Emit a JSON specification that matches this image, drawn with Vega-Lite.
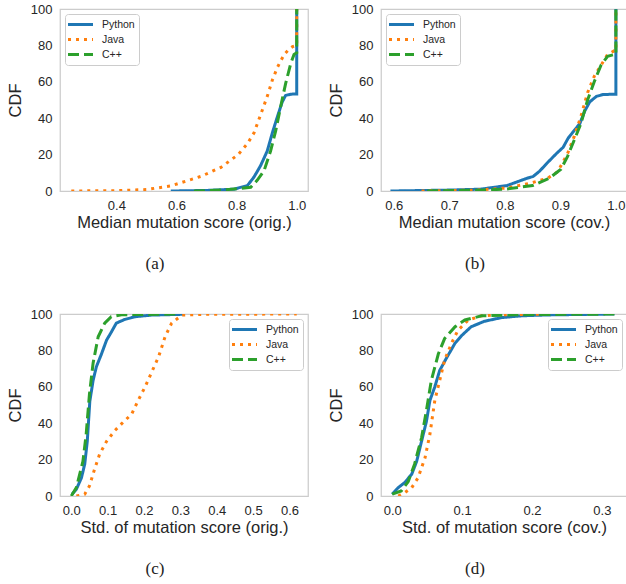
{
"$schema":"https://vega.github.io/schema/vega-lite/v6.json",
"padding":{"left":6,"top":2,"right":0,"bottom":0},
"background":"white",
"config":{
 "view":{"stroke":"#cccccc","strokeWidth":1.25},
 "axis":{"grid":false,"ticks":false,"tickSize":0,"domain":false,"labelFont":"Liberation Sans","labelFontSize":13,"labelColor":"#262626","labelPadding":8,"titleFont":"Liberation Sans","titleFontSize":16.5,"titleFontWeight":"normal","titleColor":"#262626"},
 "axisX":{"titlePadding":2},
 "axisY":{"titlePadding":7},
 "legend":{"title":null,"offset":5,"symbolType":"M-2.5,0H2.5","symbolSize":100,"symbolStrokeWidth":3,"symbolOffset":5,"labelOffset":15,"labelFontSize":10.5,"labelFont":"Liberation Sans","labelColor":"#262626","padding":4,"rowPadding":2,"fillColor":"rgba(255,255,255,0.8)","strokeColor":"#cccccc","cornerRadius":3},
 "title":{"orient":"bottom","font":"Liberation Serif","fontSize":17,"fontWeight":"normal","color":"#222222","offset":25,"dx":-29,"anchor":"middle"}
},
"data":{"values":[
{"p":"a","l":"Python","i":0,"x":0.581,"y":0},{"p":"a","l":"Python","i":1,"x":0.70,"y":0.3},{"p":"a","l":"Python","i":2,"x":0.791,"y":1},{"p":"a","l":"Python","i":3,"x":0.836,"y":3},{"p":"a","l":"Python","i":4,"x":0.858,"y":7.7},{"p":"a","l":"Python","i":5,"x":0.88,"y":14},{"p":"a","l":"Python","i":6,"x":0.902,"y":22},{"p":"a","l":"Python","i":7,"x":0.919,"y":32},{"p":"a","l":"Python","i":8,"x":0.936,"y":41},{"p":"a","l":"Python","i":9,"x":0.952,"y":49},{"p":"a","l":"Python","i":10,"x":0.963,"y":52.5},{"p":"a","l":"Python","i":11,"x":0.98,"y":53.2},{"p":"a","l":"Python","i":12,"x":1.0,"y":53.3},{"p":"a","l":"Python","i":13,"x":1.0,"y":100},
{"p":"a","l":"Java","i":0,"x":0.25,"y":0},{"p":"a","l":"Java","i":1,"x":0.4,"y":0.2},{"p":"a","l":"Java","i":2,"x":0.5,"y":0.8},{"p":"a","l":"Java","i":3,"x":0.581,"y":2.8},{"p":"a","l":"Java","i":4,"x":0.681,"y":8},{"p":"a","l":"Java","i":5,"x":0.748,"y":13},{"p":"a","l":"Java","i":6,"x":0.805,"y":20},{"p":"a","l":"Java","i":7,"x":0.836,"y":26},{"p":"a","l":"Java","i":8,"x":0.858,"y":32},{"p":"a","l":"Java","i":9,"x":0.88,"y":42},{"p":"a","l":"Java","i":10,"x":0.902,"y":52},{"p":"a","l":"Java","i":11,"x":0.919,"y":61},{"p":"a","l":"Java","i":12,"x":0.936,"y":68},{"p":"a","l":"Java","i":13,"x":0.958,"y":75},{"p":"a","l":"Java","i":14,"x":0.975,"y":78},{"p":"a","l":"Java","i":15,"x":0.986,"y":79.3},{"p":"a","l":"Java","i":16,"x":1.0,"y":80},{"p":"a","l":"Java","i":17,"x":1.0,"y":100},
{"p":"a","l":"C++","i":0,"x":0.658,"y":0},{"p":"a","l":"C++","i":1,"x":0.75,"y":0.5},{"p":"a","l":"C++","i":2,"x":0.847,"y":2},{"p":"a","l":"C++","i":3,"x":0.869,"y":6},{"p":"a","l":"C++","i":4,"x":0.891,"y":11},{"p":"a","l":"C++","i":5,"x":0.913,"y":22},{"p":"a","l":"C++","i":6,"x":0.93,"y":33},{"p":"a","l":"C++","i":7,"x":0.946,"y":46},{"p":"a","l":"C++","i":8,"x":0.963,"y":59},{"p":"a","l":"C++","i":9,"x":0.98,"y":70},{"p":"a","l":"C++","i":10,"x":0.991,"y":75},{"p":"a","l":"C++","i":11,"x":1.0,"y":76},{"p":"a","l":"C++","i":12,"x":1.0,"y":100},
{"p":"b","l":"Python","i":0,"x":0.594,"y":0},{"p":"b","l":"Python","i":1,"x":0.7,"y":0.5},{"p":"b","l":"Python","i":2,"x":0.756,"y":1},{"p":"b","l":"Python","i":3,"x":0.804,"y":3},{"p":"b","l":"Python","i":4,"x":0.84,"y":7},{"p":"b","l":"Python","i":5,"x":0.851,"y":8},{"p":"b","l":"Python","i":6,"x":0.863,"y":11},{"p":"b","l":"Python","i":7,"x":0.875,"y":15},{"p":"b","l":"Python","i":8,"x":0.893,"y":20.6},{"p":"b","l":"Python","i":9,"x":0.905,"y":24},{"p":"b","l":"Python","i":10,"x":0.914,"y":29},{"p":"b","l":"Python","i":11,"x":0.923,"y":32.5},{"p":"b","l":"Python","i":12,"x":0.935,"y":37},{"p":"b","l":"Python","i":13,"x":0.944,"y":44},{"p":"b","l":"Python","i":14,"x":0.953,"y":49},{"p":"b","l":"Python","i":15,"x":0.965,"y":52},{"p":"b","l":"Python","i":16,"x":0.977,"y":53},{"p":"b","l":"Python","i":17,"x":1.0,"y":53.2},{"p":"b","l":"Python","i":18,"x":1.0,"y":100},
{"p":"b","l":"Java","i":0,"x":0.65,"y":0},{"p":"b","l":"Java","i":1,"x":0.75,"y":0.5},{"p":"b","l":"Java","i":2,"x":0.805,"y":1.7},{"p":"b","l":"Java","i":3,"x":0.847,"y":4.4},{"p":"b","l":"Java","i":4,"x":0.877,"y":7},{"p":"b","l":"Java","i":5,"x":0.895,"y":10.5},{"p":"b","l":"Java","i":6,"x":0.913,"y":20.6},{"p":"b","l":"Java","i":7,"x":0.925,"y":30},{"p":"b","l":"Java","i":8,"x":0.937,"y":41},{"p":"b","l":"Java","i":9,"x":0.949,"y":54},{"p":"b","l":"Java","i":10,"x":0.961,"y":63},{"p":"b","l":"Java","i":11,"x":0.973,"y":69},{"p":"b","l":"Java","i":12,"x":0.985,"y":75},{"p":"b","l":"Java","i":13,"x":0.997,"y":77},{"p":"b","l":"Java","i":14,"x":1.0,"y":77},{"p":"b","l":"Java","i":15,"x":1.0,"y":100},
{"p":"b","l":"C++","i":0,"x":0.66,"y":0},{"p":"b","l":"C++","i":1,"x":0.75,"y":0.4},{"p":"b","l":"C++","i":2,"x":0.8,"y":1},{"p":"b","l":"C++","i":3,"x":0.85,"y":3},{"p":"b","l":"C++","i":4,"x":0.88,"y":7},{"p":"b","l":"C++","i":5,"x":0.901,"y":12},{"p":"b","l":"C++","i":6,"x":0.913,"y":19},{"p":"b","l":"C++","i":7,"x":0.925,"y":28},{"p":"b","l":"C++","i":8,"x":0.937,"y":37},{"p":"b","l":"C++","i":9,"x":0.949,"y":50},{"p":"b","l":"C++","i":10,"x":0.961,"y":60},{"p":"b","l":"C++","i":11,"x":0.973,"y":69},{"p":"b","l":"C++","i":12,"x":0.985,"y":74},{"p":"b","l":"C++","i":13,"x":0.997,"y":75},{"p":"b","l":"C++","i":14,"x":1.0,"y":75},{"p":"b","l":"C++","i":15,"x":1.0,"y":100},
{"p":"c","l":"Python","i":0,"x":0.002,"y":1},{"p":"c","l":"Python","i":1,"x":0.014,"y":3.7},{"p":"c","l":"Python","i":2,"x":0.028,"y":10},{"p":"c","l":"Python","i":3,"x":0.037,"y":17.5},{"p":"c","l":"Python","i":4,"x":0.044,"y":30},{"p":"c","l":"Python","i":5,"x":0.051,"y":52},{"p":"c","l":"Python","i":6,"x":0.06,"y":63.5},{"p":"c","l":"Python","i":7,"x":0.069,"y":71},{"p":"c","l":"Python","i":8,"x":0.083,"y":78},{"p":"c","l":"Python","i":9,"x":0.097,"y":85.6},{"p":"c","l":"Python","i":10,"x":0.11,"y":90},{"p":"c","l":"Python","i":11,"x":0.124,"y":95},{"p":"c","l":"Python","i":12,"x":0.147,"y":97},{"p":"c","l":"Python","i":13,"x":0.175,"y":98.5},{"p":"c","l":"Python","i":14,"x":0.221,"y":99.4},{"p":"c","l":"Python","i":15,"x":0.3,"y":99.8},{"p":"c","l":"Python","i":16,"x":0.31,"y":100},
{"p":"c","l":"Java","i":0,"x":0.014,"y":0},{"p":"c","l":"Java","i":1,"x":0.037,"y":1},{"p":"c","l":"Java","i":2,"x":0.05,"y":5.5},{"p":"c","l":"Java","i":3,"x":0.064,"y":14.7},{"p":"c","l":"Java","i":4,"x":0.078,"y":23},{"p":"c","l":"Java","i":5,"x":0.097,"y":30},{"p":"c","l":"Java","i":6,"x":0.12,"y":36},{"p":"c","l":"Java","i":7,"x":0.138,"y":39.6},{"p":"c","l":"Java","i":8,"x":0.166,"y":45},{"p":"c","l":"Java","i":9,"x":0.184,"y":52.5},{"p":"c","l":"Java","i":10,"x":0.203,"y":60},{"p":"c","l":"Java","i":11,"x":0.221,"y":68},{"p":"c","l":"Java","i":12,"x":0.24,"y":76.4},{"p":"c","l":"Java","i":13,"x":0.258,"y":87.5},{"p":"c","l":"Java","i":14,"x":0.276,"y":95},{"p":"c","l":"Java","i":15,"x":0.304,"y":99.4},{"p":"c","l":"Java","i":16,"x":0.36,"y":99.8},{"p":"c","l":"Java","i":17,"x":0.62,"y":100},
{"p":"c","l":"C++","i":0,"x":0.0,"y":0},{"p":"c","l":"C++","i":1,"x":0.014,"y":4.6},{"p":"c","l":"C++","i":2,"x":0.032,"y":19},{"p":"c","l":"C++","i":3,"x":0.041,"y":34},{"p":"c","l":"C++","i":4,"x":0.05,"y":56},{"p":"c","l":"C++","i":5,"x":0.06,"y":73},{"p":"c","l":"C++","i":6,"x":0.074,"y":87.5},{"p":"c","l":"C++","i":7,"x":0.092,"y":95},{"p":"c","l":"C++","i":8,"x":0.11,"y":98.5},{"p":"c","l":"C++","i":9,"x":0.138,"y":99.6},{"p":"c","l":"C++","i":10,"x":0.3,"y":100},
{"p":"d","l":"Python","i":0,"x":0.0,"y":1},{"p":"d","l":"Python","i":1,"x":0.0086,"y":4.6},{"p":"d","l":"Python","i":2,"x":0.018,"y":7.4},{"p":"d","l":"Python","i":3,"x":0.028,"y":12},{"p":"d","l":"Python","i":4,"x":0.035,"y":19},{"p":"d","l":"Python","i":5,"x":0.042,"y":30},{"p":"d","l":"Python","i":6,"x":0.049,"y":41},{"p":"d","l":"Python","i":7,"x":0.054,"y":52.5},{"p":"d","l":"Python","i":8,"x":0.061,"y":60},{"p":"d","l":"Python","i":9,"x":0.068,"y":69},{"p":"d","l":"Python","i":10,"x":0.078,"y":76},{"p":"d","l":"Python","i":11,"x":0.09,"y":84},{"p":"d","l":"Python","i":12,"x":0.099,"y":88},{"p":"d","l":"Python","i":13,"x":0.113,"y":93},{"p":"d","l":"Python","i":14,"x":0.132,"y":96},{"p":"d","l":"Python","i":15,"x":0.156,"y":98},{"p":"d","l":"Python","i":16,"x":0.185,"y":99},{"p":"d","l":"Python","i":17,"x":0.223,"y":99.5},{"p":"d","l":"Python","i":18,"x":0.318,"y":100},
{"p":"d","l":"Java","i":0,"x":0.0086,"y":0},{"p":"d","l":"Java","i":1,"x":0.018,"y":1.8},{"p":"d","l":"Java","i":2,"x":0.028,"y":4.6},{"p":"d","l":"Java","i":3,"x":0.037,"y":10},{"p":"d","l":"Java","i":4,"x":0.047,"y":21},{"p":"d","l":"Java","i":5,"x":0.054,"y":34},{"p":"d","l":"Java","i":6,"x":0.061,"y":52.5},{"p":"d","l":"Java","i":7,"x":0.068,"y":63.5},{"p":"d","l":"Java","i":8,"x":0.075,"y":74.6},{"p":"d","l":"Java","i":9,"x":0.085,"y":84},{"p":"d","l":"Java","i":10,"x":0.094,"y":91},{"p":"d","l":"Java","i":11,"x":0.109,"y":96.7},{"p":"d","l":"Java","i":12,"x":0.128,"y":99},{"p":"d","l":"Java","i":13,"x":0.156,"y":99.6},{"p":"d","l":"Java","i":14,"x":0.223,"y":100},
{"p":"d","l":"C++","i":0,"x":0.0,"y":1},{"p":"d","l":"C++","i":1,"x":0.013,"y":2.8},{"p":"d","l":"C++","i":2,"x":0.023,"y":8},{"p":"d","l":"C++","i":3,"x":0.032,"y":17.5},{"p":"d","l":"C++","i":4,"x":0.042,"y":32},{"p":"d","l":"C++","i":5,"x":0.049,"y":47},{"p":"d","l":"C++","i":6,"x":0.056,"y":63.5},{"p":"d","l":"C++","i":7,"x":0.066,"y":78},{"p":"d","l":"C++","i":8,"x":0.075,"y":86.5},{"p":"d","l":"C++","i":9,"x":0.09,"y":93},{"p":"d","l":"C++","i":10,"x":0.104,"y":96.7},{"p":"d","l":"C++","i":11,"x":0.128,"y":99},{"p":"d","l":"C++","i":12,"x":0.175,"y":99.6},{"p":"d","l":"C++","i":13,"x":0.323,"y":100}
]},
"columns":2,
"spacing":{"row":123,"column":73},
"bounds":"flush",
"concat":[
 {"width":248,"height":182,"title":{"text":"(a)"},
  "transform":[{"filter":"datum.p==='a'"}],
  "mark":{"type":"line","strokeWidth":3,"clip":true},
  "encoding":{
   "x":{"field":"x","type":"quantitative","scale":{"domain":[0.2125,1.0375],"nice":false,"zero":false},"axis":{"values":[0.4,0.6,0.8,1.0],"format":".1f","title":"Median mutation score (orig.)"}},
   "y":{"field":"y","type":"quantitative","scale":{"domain":[0,100],"nice":false},"axis":{"values":[0,20,40,60,80,100],"title":"CDF"}},
   "color":{"field":"l","type":"nominal","scale":{"domain":["Python","Java","C++"],"range":["#1f77b4","#ff7f0e","#2ca02c"]},"legend":{"orient":"top-left"}},
   "strokeDash":{"field":"l","type":"nominal","scale":{"domain":["Python","Java","C++"],"range":[[1,0],[3,5],[11,5]]},"legend":{"orient":"top-left"}},
   "order":{"field":"i","type":"quantitative"}
  }},
 {"width":246,"height":182,"title":{"text":"(b)"},
  "transform":[{"filter":"datum.p==='b'"}],
  "mark":{"type":"line","strokeWidth":3,"clip":true},
  "encoding":{
   "x":{"field":"x","type":"quantitative","scale":{"domain":[0.577,1.02],"nice":false,"zero":false},"axis":{"values":[0.6,0.7,0.8,0.9,1.0],"format":".1f","title":"Median mutation score (cov.)"}},
   "y":{"field":"y","type":"quantitative","scale":{"domain":[0,100],"nice":false},"axis":{"values":[0,20,40,60,80,100],"title":"CDF"}},
   "color":{"field":"l","type":"nominal","scale":{"domain":["Python","Java","C++"],"range":["#1f77b4","#ff7f0e","#2ca02c"]},"legend":{"orient":"top-left"}},
   "strokeDash":{"field":"l","type":"nominal","scale":{"domain":["Python","Java","C++"],"range":[[1,0],[3,5],[11,5]]},"legend":{"orient":"top-left"}},
   "order":{"field":"i","type":"quantitative"}
  }},
 {"width":248,"height":182,"title":{"text":"(c)"},
  "transform":[{"filter":"datum.p==='c'"}],
  "mark":{"type":"line","strokeWidth":3,"clip":true},
  "encoding":{
   "x":{"field":"x","type":"quantitative","scale":{"domain":[-0.031,0.651],"nice":false,"zero":false},"axis":{"values":[0,0.1,0.2,0.3,0.4,0.5,0.6],"format":".1f","title":"Std. of mutation score (orig.)"}},
   "y":{"field":"y","type":"quantitative","scale":{"domain":[0,100],"nice":false},"axis":{"values":[0,20,40,60,80,100],"title":"CDF"}},
   "color":{"field":"l","type":"nominal","scale":{"domain":["Python","Java","C++"],"range":["#1f77b4","#ff7f0e","#2ca02c"]},"legend":{"orient":"top-right"}},
   "strokeDash":{"field":"l","type":"nominal","scale":{"domain":["Python","Java","C++"],"range":[[1,0],[3,5],[11,5]]},"legend":{"orient":"top-right"}},
   "order":{"field":"i","type":"quantitative"}
  }},
 {"width":246,"height":182,"title":{"text":"(d)"},
  "transform":[{"filter":"datum.p==='d'"}],
  "mark":{"type":"line","strokeWidth":3,"clip":true},
  "encoding":{
   "x":{"field":"x","type":"quantitative","scale":{"domain":[-0.016,0.336],"nice":false,"zero":false},"axis":{"values":[0,0.1,0.2,0.3],"format":".1f","title":"Std. of mutation score (cov.)"}},
   "y":{"field":"y","type":"quantitative","scale":{"domain":[0,100],"nice":false},"axis":{"values":[0,20,40,60,80,100],"title":"CDF"}},
   "color":{"field":"l","type":"nominal","scale":{"domain":["Python","Java","C++"],"range":["#1f77b4","#ff7f0e","#2ca02c"]},"legend":{"orient":"top-right"}},
   "strokeDash":{"field":"l","type":"nominal","scale":{"domain":["Python","Java","C++"],"range":[[1,0],[3,5],[11,5]]},"legend":{"orient":"top-right"}},
   "order":{"field":"i","type":"quantitative"}
  }}
]
}
